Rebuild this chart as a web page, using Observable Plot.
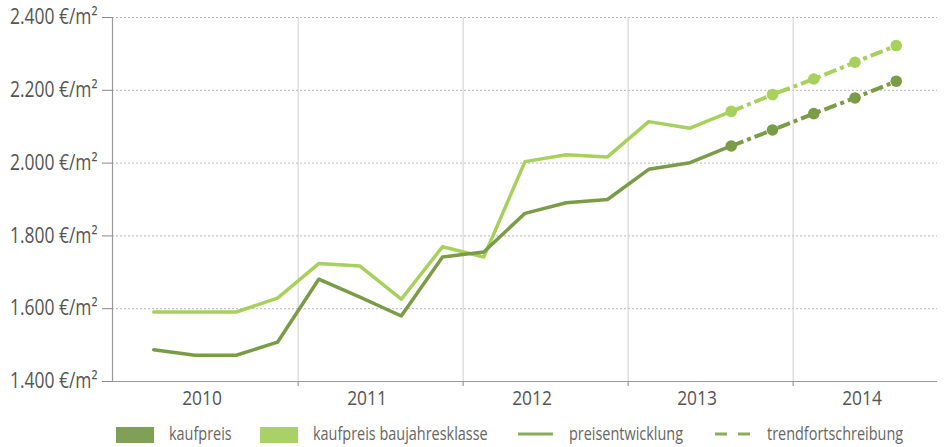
<!DOCTYPE html>
<html>
<head>
<meta charset="utf-8">
<script src="https://cdn.jsdelivr.net/npm/d3@7"></script>
<script src="https://cdn.jsdelivr.net/npm/@observablehq/plot@0.6"></script>
<style>
  body { margin: 0; background: #fff; font-family: "Open Sans", sans-serif; }
  #chart svg { display: block; }
  #legend { position: relative; width: 947px; height: 32px; color: #666; font-size: 19px; }
  #legend .sw { position: absolute; top: 12px; width: 38px; height: 16px; }
  #legend .tx { position: absolute; top: 7px; line-height: 22px; white-space: nowrap; transform: scaleX(0.76); transform-origin: 0 50%; }
  #legend svg { position: absolute; top: 12px; }
</style>
</head>
<body>
<div id="chart"></div>
<div id="legend"></div>
<script>
// Quarters 2010 Q1 .. 2014 Q3 (index 0..18)
const quarters = ["2010 Q1","2010 Q2","2010 Q3","2010 Q4","2011 Q1","2011 Q2","2011 Q3","2011 Q4",
  "2012 Q1","2012 Q2","2012 Q3","2012 Q4","2013 Q1","2013 Q2","2013 Q3","2013 Q4","2014 Q1","2014 Q2","2014 Q3"];
const kaufpreis = [1487,1472,1472,1508,1681,1632,1580,1742,1756,1862,1891,1900,1983,2001,2047,2091,2136,2179,2225];
const baujahresklasse = [1591,1591,1591,1629,1724,1717,1626,1770,1742,2004,2023,2017,2114,2096,2142,2188,2231,2277,2323];
const lastActual = 14; // 2013 Q3: end of solid line, start of trend
const years = ["2010","2011","2012","2013","2014"];
const yTicks = [1400,1600,1800,2000,2200,2400];
const legendLabels = ["kaufpreis","kaufpreis baujahresklasse","preisentwicklung","trendfortschreibung"];

const dark = "#7b9c46", light = "#a8d05c";
const rows = quarters.map((q, i) => ({q, i, k: kaufpreis[i], b: baujahresklasse[i]}));
const actual = rows.filter(d => d.i <= lastActual);
const trend = rows.filter(d => d.i >= lastActual);
const yearBounds = years.slice(1).map((y, j) => 3.5 + 4 * j);
const yearPos = years.map((y, j) => 1.17 + 4 * j);

const de = d3.formatLocale({decimal: ",", thousands: ".", grouping: [3], currency: ["", "€"]});
const fmt = d => de.format(",")(d) + " €/m²";

const plot = Plot.plot({
  width: 947, height: 415,
  marginLeft: 112, marginRight: 10, marginTop: 17, marginBottom: 34,
  style: {fontFamily: '"Open Sans", sans-serif', color: "#555", background: "#fff"},
  x: {type: "linear", domain: [-1, 19]},
  y: {domain: [1400, 2400]},
  marks: [
    Plot.ruleY(yTicks.slice(1), {stroke: "#b5b5b5", strokeDasharray: "2,2", strokeWidth: 1}),
    Plot.ruleX(yearBounds, {y1: 1400, y2: 2400, stroke: "#cfcfcf", strokeWidth: 1}),
    Plot.axisY({ticks: yTicks, tickSize: 10, tickPadding: 5, tickFormat: fmt, fontSize: 21, stroke: "#888", color: "#555", label: null}),
    Plot.axisX({ticks: yearBounds, tickSize: 5, tickFormat: () => "", stroke: "#888", label: null}),
    Plot.axisX({ticks: yearPos, tickSize: 0, tickPadding: 9, tickFormat: (d, j) => years[j], fontSize: 20, color: "#555", label: null}),
    Plot.ruleX([-1], {y1: 1400, y2: 2400, stroke: "#999", strokeWidth: 1.2}),
    Plot.ruleY([1400], {stroke: "#999", strokeWidth: 1.2}),
    Plot.line(actual, {x: "i", y: "b", stroke: light, strokeWidth: 3.5}),
    Plot.line(actual, {x: "i", y: "k", stroke: dark, strokeWidth: 3.5}),
    Plot.line(trend, {x: "i", y: "b", stroke: light, strokeWidth: 4, strokeDasharray: "13,4,4,4", strokeLinecap: "butt"}),
    Plot.line(trend, {x: "i", y: "k", stroke: dark, strokeWidth: 4, strokeDasharray: "13,4,4,4", strokeLinecap: "butt"}),
    Plot.dot(trend, {x: "i", y: "b", r: 5.8, fill: light}),
    Plot.dot(trend, {x: "i", y: "k", r: 5.8, fill: dark})
  ]
});
document.getElementById("chart").appendChild(plot);

// condense the tick label glyphs horizontally (reference uses a narrow face)
function condense(sel, s) {
  plot.querySelectorAll(sel).forEach(t => {
    const tr = t.getAttribute("transform");
    if (tr) { t.setAttribute("transform", tr + ` scale(${s},1)`); }
    else {
      const x = +t.getAttribute("x") || 0, y = +t.getAttribute("y") || 0;
      t.removeAttribute("x"); t.removeAttribute("y");
      t.setAttribute("transform", `translate(${x},${y}) scale(${s},1)`);
    }
  });
}
condense('g[aria-label="y-axis tick label"] text', 0.83);
condense('g[aria-label="x-axis tick label"] text', 0.87);

const lg = document.getElementById("legend");
lg.innerHTML = `
  <div class="sw" style="left:116px;background:#80a055"></div>
  <div class="tx" style="left:169px">${legendLabels[0]}</div>
  <div class="sw" style="left:260px;background:#a9d167"></div>
  <div class="tx" style="left:313px">${legendLabels[1]}</div>
  <svg style="left:518px" width="36" height="16"><line x1="0" x2="35" y1="7" y2="7" stroke="#8aad5a" stroke-width="3"/></svg>
  <div class="tx" style="left:569px">${legendLabels[2]}</div>
  <svg style="left:715px" width="36" height="16"><line x1="0" x2="35" y1="7" y2="7" stroke="#8aad5a" stroke-width="3" stroke-dasharray="12,11"/></svg>
  <div class="tx" style="left:767px">${legendLabels[3]}</div>`;
</script>
</body>
</html>
